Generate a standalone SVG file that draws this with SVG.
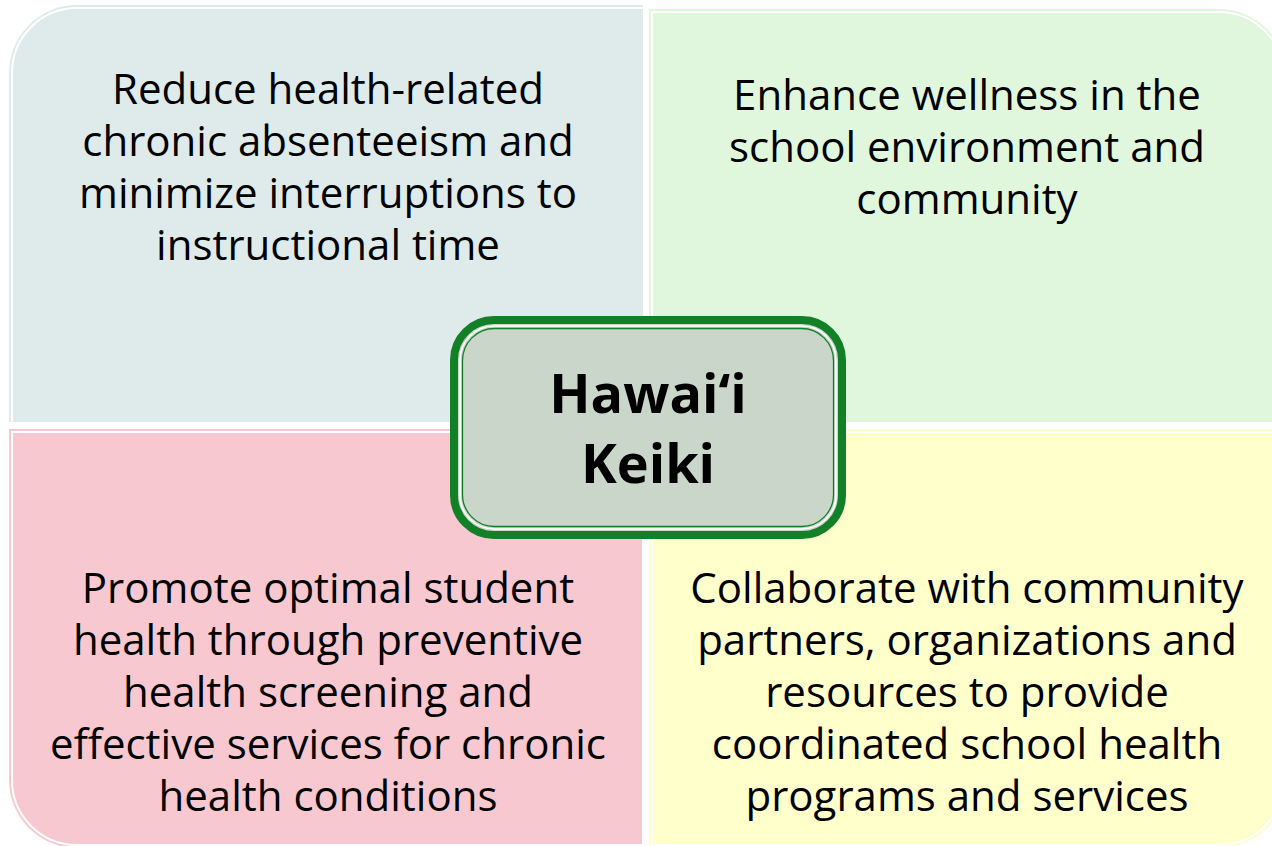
<svg xmlns="http://www.w3.org/2000/svg" width="1272" height="846" viewBox="0 0 1272 846">
<style>
.q{stroke:none}
.wl{fill:none;stroke:#ffffff;stroke-width:2}
.t{font-family:"Open Sans","Noto Sans","DejaVu Sans",sans-serif;font-size:42px;fill:#000;text-anchor:middle}
.c{font-family:"Open Sans","Noto Sans","DejaVu Sans",sans-serif;font-size:54px;font-weight:bold;fill:#000;text-anchor:middle}
</style>
<rect width="1272" height="846" fill="#ffffff"/>
<g id="q-top-left">
<path class="q" fill="#dfeaea" d="M9,422 V73 A68,68 0 0 1 77,5 H643 V422 Z"/>
<path class="wl" d="M12,422 V73 A65,65 0 0 1 77,8 H643"/>
<text class="t" x="328"><tspan x="328" y="104">Reduce health-related</tspan><tspan x="328" y="156">chronic absenteeism and</tspan><tspan x="328" y="208">minimize interruptions to</tspan><tspan x="328" y="260">instructional time</tspan></text>
</g>
<g id="q-top-right">
<path class="q" fill="#e1f7dd" d="M649,422 V9 H1219 A68,68 0 0 1 1287,77 V422 Z"/>
<path class="wl" d="M652,422 V12 H1219 A65,65 0 0 1 1284,77 V422"/>
<text class="t" x="967"><tspan x="967" y="110">Enhance wellness in the</tspan><tspan x="967" y="162">school environment and</tspan><tspan x="967" y="214">community</tspan></text>
</g>
<g id="q-bottom-left">
<path class="q" fill="#f7c8cf" d="M9,429 H642 V848 H77 A68,68 0 0 1 9,780 Z"/>
<path class="wl" d="M642,432 H12 V780 A65,65 0 0 0 77,845 H642"/>
<text class="t" x="328"><tspan x="328" y="603">Promote optimal student</tspan><tspan x="328" y="655">health through preventive</tspan><tspan x="328" y="707">health screening and</tspan><tspan x="328" y="759">effective services for chronic</tspan><tspan x="328" y="811">health conditions</tspan></text>
</g>
<g id="q-bottom-right">
<path class="q" fill="#ffffcc" d="M649,429 H1287 V780 A68,68 0 0 1 1219,848 H649 Z"/>
<path class="wl" d="M652,848 V432 H1284 V780 A65,65 0 0 1 1219,845 H652"/>
<text class="t" x="967"><tspan x="967" y="603">Collaborate with community</tspan><tspan x="967" y="655">partners, organizations and</tspan><tspan x="967" y="707">resources to provide</tspan><tspan x="967" y="759">coordinated school health</tspan><tspan x="967" y="811">programs and services</tspan></text>
</g>
<g id="center">
<rect x="454" y="320" width="388" height="215" rx="40" ry="40" fill="#cbd6cb" stroke="#128026" stroke-width="8"/>
<rect x="460" y="326" width="376" height="203" rx="34" ry="34" fill="none" stroke="#ffffff" stroke-width="1.6"/>
<rect x="462.5" y="328.5" width="371" height="198" rx="32" ry="32" fill="none" stroke="#128026" stroke-width="1.3"/>
<text class="c" x="648"><tspan x="648" y="413">Hawai‘i</tspan><tspan x="648" y="483">Keiki</tspan></text>
</g>
<g id="connectors"/>
</svg>
